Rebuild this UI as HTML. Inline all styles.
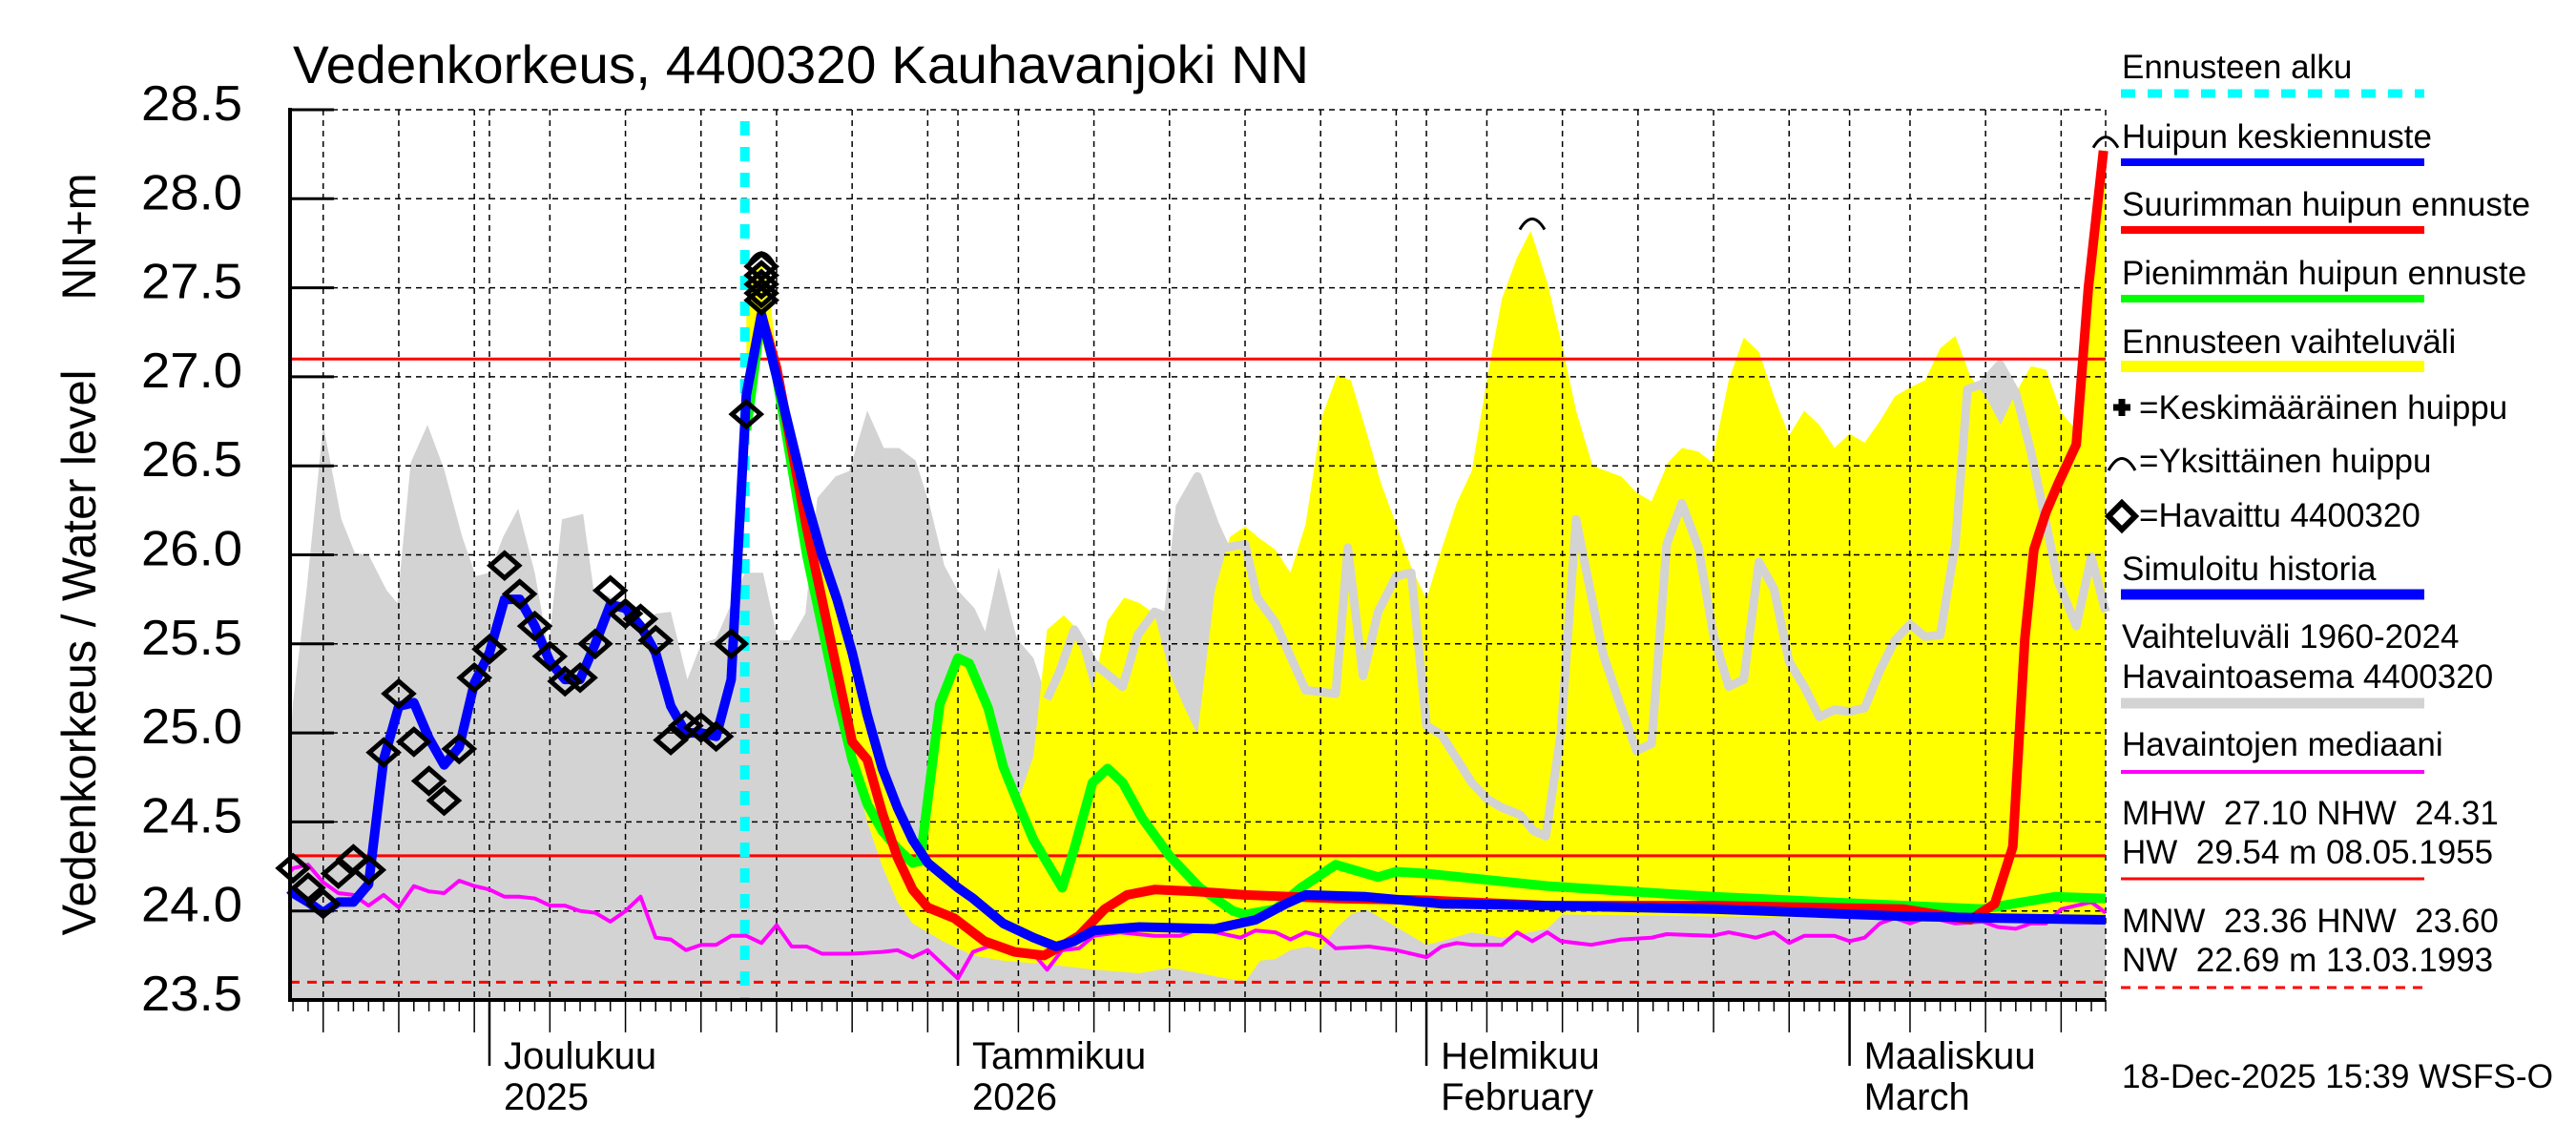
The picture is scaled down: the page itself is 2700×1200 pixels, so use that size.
<!DOCTYPE html>
<html><head><meta charset="utf-8">
<style>
html,body{margin:0;padding:0;background:#fff;}
svg{display:block;}
.t{font-family:"Liberation Sans Narrow","Liberation Sans",sans-serif;fill:#000;}
.l{font-family:"Liberation Sans",sans-serif;fill:#000;font-size:35px;}
</style></head>
<body>
<svg id="chart" width="2700" height="1200" viewBox="0 0 2700 1200" xmlns="http://www.w3.org/2000/svg">
<rect x="0" y="0" width="2700" height="1200" fill="#fff"/>
<g id="bands"></g>
<g id="grid"></g>
<g id="series"></g>
<g id="axes"></g>
<text class="t" x="307" y="87" font-size="56" textLength="1065" lengthAdjust="spacingAndGlyphs">Vedenkorkeus, 4400320 Kauhavanjoki NN</text>
<text transform="translate(100,684) rotate(-90)" text-anchor="middle" font-family="Liberation Sans, sans-serif" font-size="50" textLength="593" lengthAdjust="spacingAndGlyphs">Vedenkorkeus / Water level</text>
<text transform="translate(100,248) rotate(-90)" text-anchor="middle" font-family="Liberation Sans, sans-serif" font-size="50" textLength="133" lengthAdjust="spacingAndGlyphs">NN+m</text>
<g id="legend">
<text class="l" x="2224" y="82">Ennusteen alku</text>
<line x1="2223" y1="98" x2="2541" y2="98" stroke="#00ffff" stroke-width="9" stroke-dasharray="15,13"/>
<text class="l" x="2224" y="155">Huipun keskiennuste</text>
<line x1="2223" y1="170" x2="2541" y2="170" stroke="#0000ff" stroke-width="8"/>
<text class="l" x="2224" y="226">Suurimman huipun ennuste</text>
<line x1="2223" y1="241" x2="2541" y2="241" stroke="#ff0000" stroke-width="8"/>
<text class="l" x="2224" y="298">Pienimmän huipun ennuste</text>
<line x1="2223" y1="313" x2="2541" y2="313" stroke="#00ff00" stroke-width="8"/>
<text class="l" x="2224" y="370">Ennusteen vaihteluväli</text>
<line x1="2223" y1="384" x2="2541" y2="384" stroke="#ffff00" stroke-width="12"/>
<path d="M2215,427 h18 M2224,418 v18" stroke="#000" stroke-width="7" fill="none"/>
<text class="l" x="2242" y="439">=Keskimääräinen huippu</text>
<path d="M2210,493 Q2224,468 2238,493" stroke="#000" stroke-width="3" fill="none"/>
<text class="l" x="2242" y="495">=Yksittäinen huippu</text>
<path d="M2224,527 L2238,541 L2224,555 L2210,541 Z" stroke="#000" stroke-width="6" fill="none"/>
<text class="l" x="2242" y="552">=Havaittu 4400320</text>
<text class="l" x="2224" y="608">Simuloitu historia</text>
<line x1="2223" y1="623" x2="2541" y2="623" stroke="#0000ff" stroke-width="11"/>
<text class="l" x="2224" y="679">Vaihteluväli 1960-2024</text>
<text class="l" x="2224" y="721">Havaintoasema 4400320</text>
<line x1="2223" y1="737" x2="2541" y2="737" stroke="#d3d3d3" stroke-width="11"/>
<text class="l" x="2224" y="792">Havaintojen mediaani</text>
<line x1="2223" y1="809" x2="2541" y2="809" stroke="#ff00ff" stroke-width="4"/>
<text class="l" x="2224" y="864" xml:space="preserve">MHW  27.10 NHW  24.31</text>
<text class="l" x="2224" y="905" xml:space="preserve">HW  29.54 m 08.05.1955</text>
<line x1="2223" y1="921" x2="2541" y2="921" stroke="#ff0000" stroke-width="3"/>
<text class="l" x="2224" y="977" xml:space="preserve">MNW  23.36 HNW  23.60</text>
<text class="l" x="2224" y="1018" xml:space="preserve">NW  22.69 m 13.03.1993</text>
<line x1="2223" y1="1035" x2="2541" y2="1035" stroke="#ff0000" stroke-width="3" stroke-dasharray="10,8"/>
<text class="l" x="2224" y="1140" textLength="452" lengthAdjust="spacingAndGlyphs">18-Dec-2025 15:39 WSFS-O</text>
</g>
</svg>
<script>
// day index: 0 = 1 Dec 2025
const yTicks = [23.5, 24.0, 24.5, 25.0, 25.5, 26.0, 26.5, 27.0, 27.5, 28.0, 28.5];
const yTickLabels = ["23.5","24.0","24.5","25.0","25.5","26.0","26.5","27.0","27.5","28.0","28.5"];
const monthDays = [0, 31, 62, 90];
const monthLabels1 = ["Joulukuu","Tammikuu","Helmikuu","Maaliskuu"];
const monthLabels2 = ["2025","2026","February","March"];
const refLevels = [27.10, 24.31];
const hnwLevel = 23.60;
const forecastStartDay = 16.9;

const obsDays = [-13,-12,-11,-10,-9,-8,-7,-6,-5,-4,-3,-2,-1,0,1,2,3,4,5,6,7,8,9,10,11,12,13,14,15,16,17,18,18,18,18,18];
const obsVals = [24.24,24.13,24.04,24.21,24.29,24.23,24.89,25.22,24.95,24.73,24.62,24.91,25.31,25.47,25.94,25.78,25.60,25.43,25.29,25.31,25.50,25.80,25.67,25.64,25.52,24.96,25.04,25.03,24.98,25.50,26.79,27.62,27.57,27.52,27.47,27.43];

const blueDays = [-13.5,-13,-12,-11,-10,-9,-8,-7,-6,-5,-4,-3,-2,-1,0,1,2,3,4,5,6,7,8,9,10,11,12,13,14,15,16,17,18,19,20,21,22,23,24,25,26,27,28,29,30,31,32,33,34,35,36,37.5,38.7,40,43,48,50.7,52.7,54,58,63,70,81,93.6,100,107];
const blueVals = [24.12,24.1,24.05,23.99,24.05,24.05,24.15,24.85,25.15,25.17,24.97,24.82,24.92,25.28,25.45,25.75,25.75,25.6,25.4,25.3,25.3,25.5,25.72,25.7,25.6,25.45,25.15,25.0,25.0,24.98,25.3,26.9,27.35,27.0,26.65,26.3,26.0,25.75,25.45,25.1,24.8,24.58,24.4,24.27,24.2,24.13,24.07,24.0,23.93,23.89,23.85,23.8,23.83,23.89,23.91,23.9,23.95,24.04,24.09,24.08,24.04,24.03,24.01,23.97,23.96,23.95];

const redDays = [17,18,19,20,21,22,23,24,25,26,27,28,29,30.75,32.75,34.75,36.7,38,39,40.7,42.2,44,46.7,50,53,56,62,70,81,93.6,98,99.6,100.8,101.6,102.2,103,103.8,105,105.8,106.8];
const redVals = [26.9,27.35,27.05,26.6,26.15,25.75,25.35,24.95,24.85,24.55,24.3,24.12,24.02,23.96,23.83,23.77,23.75,23.81,23.86,24.01,24.09,24.12,24.11,24.09,24.08,24.07,24.06,24.03,24.03,24.01,23.95,24.04,24.36,25.53,26.03,26.24,26.4,26.62,27.5,28.27];

const greenDays = [17,18,19,20,21,22,23,24,25,26,27,28,28.5,29.8,31,31.75,33,34,35,36,37.9,38.7,39.9,40.9,41.9,43.2,45,47,49.2,50,52,53.7,56,58.8,60,62,70,81,91,98.8,100.8,103.6,107];
const greenVals = [26.7,27.35,27.0,26.5,26.0,25.6,25.2,24.85,24.6,24.45,24.35,24.27,24.28,25.16,25.42,25.39,25.14,24.81,24.6,24.4,24.13,24.35,24.72,24.8,24.72,24.52,24.31,24.13,24.0,23.98,24.01,24.13,24.26,24.19,24.22,24.21,24.14,24.08,24.04,24.01,24.04,24.08,24.07];

const medDays = [-13.5,-13,-12,-11,-10,-9,-8,-7,-6,-5,-4,-3,-2,-1,0,1,2,3,4,5,6,7,8,9,10,11,12,13,14,15,16,17,18,19,20,21,22,24,26,27,28,29,31,32,33,35,36,36.9,37.9,39,40,41.7,44,45.7,47,49.7,50.7,52,53,54,55,56,58.2,60,62,63,64,65,67,68,69,70,70.9,72.9,74.9,76.9,77.9,80.9,82,83.8,85,86,87,89,90,91,92,93,94,95,96,97,98.8,99.8,101,102,103,104,105,106,107];
const medVals = [24.22,24.24,24.26,24.16,24.1,24.09,24.03,24.09,24.02,24.14,24.11,24.1,24.17,24.14,24.12,24.08,24.08,24.07,24.03,24.03,24.0,23.99,23.94,24.0,24.08,23.85,23.84,23.78,23.81,23.81,23.86,23.86,23.82,23.92,23.8,23.8,23.76,23.76,23.77,23.78,23.74,23.78,23.62,23.77,23.8,23.78,23.76,23.67,23.78,23.79,23.86,23.88,23.86,23.86,23.9,23.85,23.89,23.88,23.84,23.88,23.86,23.79,23.8,23.78,23.74,23.8,23.82,23.81,23.81,23.88,23.83,23.88,23.83,23.81,23.84,23.85,23.87,23.86,23.88,23.85,23.88,23.82,23.86,23.86,23.83,23.85,23.93,23.96,23.93,23.96,23.95,23.93,23.94,23.91,23.9,23.93,23.93,24.01,24.03,24.05,23.99];

const greyDays = [-13.5,-13,-12.1,-11,-9.8,-8.9,-8,-6.8,-6.1,-5.2,-4.1,-3,-1.8,-0.9,0,0.9,1.9,3,3.9,4.8,6.2,6.9,7.8,9,10.1,11,12,13.1,14,15,16.9,18.1,19.1,19.9,20.9,21.7,22.9,23.8,25,26.1,27.1,28.2,29.1,30.1,31,32.1,32.8,33.7,34.9,36,36.9,37.7,38.7,40,41.9,42.9,44,44.9,45.7,46.85,48,48.7,50,50.8,52,54,56,56.8,57.8,58.8,60,61,62,63,65,66,67,68.2,69.1,69.9,70.9,71.9,72.7,73.7,74.9,75.9,76.9,77.9,78.9,80,81,82,83,84,85,86,87,88,89,90,91,92,93,94,95,96,97,97.8,98.8,99.95,101,102,102.8,103.8,105,106,107];
const greyVals = [24.9,25.17,25.8,26.73,26.2,26.01,26.0,25.8,25.73,26.52,26.73,26.48,26.1,25.88,25.9,26.1,26.26,25.9,25.47,26.2,26.23,25.8,25.77,25.73,25.6,25.67,25.68,25.3,25.5,25.53,25.9,25.9,25.52,25.52,25.67,26.32,26.44,26.47,26.81,26.6,26.6,26.53,26.29,25.94,25.8,25.7,25.57,25.93,25.53,25.42,25.19,25.34,25.58,25.39,25.26,25.55,25.68,25.65,26.27,26.44,26.17,26.04,26.06,25.76,25.62,25.24,25.22,26.04,25.32,25.68,25.88,25.9,25.04,24.99,24.72,24.63,24.58,24.54,24.45,24.42,25.0,26.2,25.86,25.44,25.14,24.9,24.94,26.06,26.29,26.04,25.55,25.26,25.3,25.96,25.81,25.4,25.26,25.09,25.13,25.12,25.14,25.35,25.52,25.61,25.54,25.55,26.06,26.93,26.96,27.07,26.91,26.58,26.26,25.85,25.6,25.99,25.68];

const yelUpDays = [17,17.5,18,18.5,19,20,21,22,23,24,25,26,27,28,28.5,29.8,31,32,33,34,35,36,36.9,38,38.7,39.9,40.9,42,43,44,45,45.9,46.85,48,49,50,51,52,53,54,55.1,56.1,57,58,59,60,61,62,63,64,65,66,67,68,68.9,70,71,71.9,73,74.9,75.9,76.9,78,78.9,80,80.9,82,83,84,85,86,87,88,89,90,91,92,93,94,95,96,97,98,99,100,101,102,103,104,105,105.8,107];
const yelUpVals = [27.4,27.6,27.65,27.5,27.1,26.75,26.4,26.05,25.8,25.5,25.15,24.85,24.62,24.45,24.38,25.2,25.45,25.38,25.16,24.85,24.62,24.87,25.58,25.66,25.6,25.24,25.63,25.76,25.73,25.67,25.34,25.16,24.99,25.8,26.1,26.16,26.09,26.03,25.9,26.17,26.78,27.01,26.98,26.7,26.4,26.17,25.93,25.75,26.03,26.29,26.47,26.98,27.44,27.67,27.82,27.53,27.17,26.81,26.5,26.44,26.35,26.3,26.52,26.6,26.58,26.52,26.98,27.22,27.14,26.89,26.67,26.81,26.73,26.6,26.68,26.63,26.75,26.89,26.94,26.98,27.16,27.23,27.0,26.89,26.73,26.91,27.06,27.04,26.8,26.7,27.27,28.3];
const yelLoDays = [17,18,19,20,21,22,23,24,25,26,27,28,30,32,34,37,40,43,45,47,50,51,52,53,54.2,55,56,57,58,59,60,61,62,63,65,67,70,71,80,90,98,100,107];
const yelLoVals = [26.8,27.2,26.95,26.5,26.05,25.65,25.25,24.85,24.5,24.25,24.05,23.93,23.83,23.75,23.72,23.7,23.67,23.65,23.68,23.65,23.6,23.72,23.73,23.78,23.8,23.78,23.9,23.98,24.01,23.96,23.91,23.86,23.81,23.83,23.88,23.85,23.9,23.98,23.97,23.96,23.95,23.95,23.95];

const singlePeakDays = [18, 69, 107];
const singlePeakVals = [27.68, 27.87, 28.33];

const X0 = 304, X1 = 2207, Y0 = 1048, Y1 = 115;
const DPX = 15.84;
function x(d){ return Math.min(X1, Math.max(X0, 513 + d*DPX)); }
function y(v){ return Y0 - (v-23.5)*(Y0-Y1)/5.0; }
const NS = "http://www.w3.org/2000/svg";
function mk(tag, parent, attrs){ const e=document.createElementNS(NS,tag); for(const k in attrs) e.setAttribute(k,attrs[k]); parent.appendChild(e); return e; }
function pts(ds, vs){ return ds.map((d,i)=>x(d).toFixed(1)+","+y(vs[i]).toFixed(1)).join(" "); }

const bands = document.getElementById('bands');
const grid = document.getElementById('grid');
const series = document.getElementById('series');
const axes = document.getElementById('axes');

let gpts = x(greyDays[0])+","+Y0+" "+pts(greyDays,greyVals)+" "+x(greyDays[greyDays.length-1])+","+Y0;
const gA = mk('polygon', bands, {points:gpts, fill:'#d3d3d3'});



let ypts = pts(yelUpDays,yelUpVals)+" "+pts(yelLoDays.slice().reverse(), yelLoVals.slice().reverse());
const yA = mk('polygon', bands, {points:ypts, fill:'#ffff00'});



const gl = mk('polyline', bands, {points:pts(greyDays.slice(50),greyVals.slice(50)), fill:'none', stroke:'#d3d3d3', 'stroke-width':9, 'stroke-linejoin':'round'});



yTicks.forEach((v,i)=>{
  const ln = mk('line', grid, {x1:X0, x2:X1, y1:y(v), y2:y(v), stroke:'#000', 'stroke-width':1.5, 'stroke-dasharray':'6,5'});
  
  
});
const gridDays = [];
for (let d=-13; d<=107; d++){
  let dom;
  if (d<0) dom = 30+d+1; else if (d<31) dom=d+1; else if (d<62) dom=d-30; else if (d<90) dom=d-61; else dom=d-89;
  const isMonth = monthDays.includes(d);
  const isFive = (dom%5===0);
  if (isMonth || isFive) gridDays.push(d);
  const len = isMonth ? 69 : (isFive ? 34 : 12);
  const tk = mk('line', axes, {x1:x(d), x2:x(d), y1:Y0, y2:Y0+len, stroke:'#000', 'stroke-width': isMonth?2.5:1.5});
  
  
}
gridDays.forEach(d=>{
  const ln = mk('line', grid, {x1:x(d), x2:x(d), y1:Y1, y2:Y0, stroke:'#000', 'stroke-width':1.5, 'stroke-dasharray':'6,5'});
  
  
});
mk('line', grid, {x1:X1, x2:X1, y1:Y1, y2:Y0, stroke:'#000', 'stroke-width':1.5, 'stroke-dasharray':'6,5'});

refLevels.forEach(v=>{
  const ln = mk('line', grid, {x1:X0, x2:X1, y1:y(v), y2:y(v), stroke:'#ff0000', 'stroke-width':3});
  
  
});
const hn = mk('line', grid, {x1:X0, x2:X1, y1:y(hnwLevel), y2:y(hnwLevel), stroke:'#ff0000', 'stroke-width':3, 'stroke-dasharray':'10,8'});



const fs = mk('line', series, {x1:x(forecastStartDay), x2:x(forecastStartDay), y1:127, y2:Y0, stroke:'#00ffff', 'stroke-width':10, 'stroke-dasharray':'15,12'});



const md = mk('polyline', series, {points:pts(medDays,medVals), fill:'none', stroke:'#ff00ff', 'stroke-width':4, 'stroke-linejoin':'round'});



const gr = mk('polyline', series, {points:pts(greenDays,greenVals), fill:'none', stroke:'#00ff00', 'stroke-width':10, 'stroke-linejoin':'round'});


const rd = mk('polyline', series, {points:pts(redDays,redVals), fill:'none', stroke:'#ff0000', 'stroke-width':10, 'stroke-linejoin':'round'});


const bl = mk('polyline', series, {points:pts(blueDays,blueVals), fill:'none', stroke:'#0000ff', 'stroke-width':10, 'stroke-linejoin':'round'});



obsDays.forEach((d,i)=>{
  const cx=x(d), cy=y(obsVals[i]);
  const p = mk('path', series, {d:`M${cx},${cy-13} L${cx+15},${cy} L${cx},${cy+13} L${cx-15},${cy} Z`, fill:'none', stroke:'#000', 'stroke-width':5});
  
  
});

singlePeakDays.forEach((d,i)=>{
  const cx=x(d), cy=y(singlePeakVals[i]);
  const a = mk('path', series, {d:`M${cx-13},${cy+8} Q${cx},${cy-14} ${cx+13},${cy+8}`, fill:'none', stroke:'#000', 'stroke-width':3});
  
  
});

mk('line', axes, {x1:X0, x2:X0, y1:Y1-2, y2:Y0+2, stroke:'#000', 'stroke-width':4});
mk('line', axes, {x1:X0, x2:X1, y1:Y0, y2:Y0, stroke:'#000', 'stroke-width':4});
yTicks.forEach((v,i)=>{
  const tk = mk('line', axes, {x1:X0, x2:X0+46, y1:y(v), y2:y(v), stroke:'#000', 'stroke-width':3});
  
  
  const t = mk('text', axes, {x:254, y:y(v)+11, 'text-anchor':'end', 'font-size':52, class:'t', textLength:106, lengthAdjust:'spacingAndGlyphs'});
  t.textContent = yTickLabels[i];
  
  
});
monthDays.forEach((d,i)=>{
  const t1 = mk('text', axes, {x:x(d)+15, y:1120, 'font-size':40, class:'t'});
  t1.textContent = monthLabels1[i];
  
  
  const t2 = mk('text', axes, {x:x(d)+15, y:1163, 'font-size':40, class:'t'});
  t2.textContent = monthLabels2[i];
  
  
});
</script>
</body></html>
